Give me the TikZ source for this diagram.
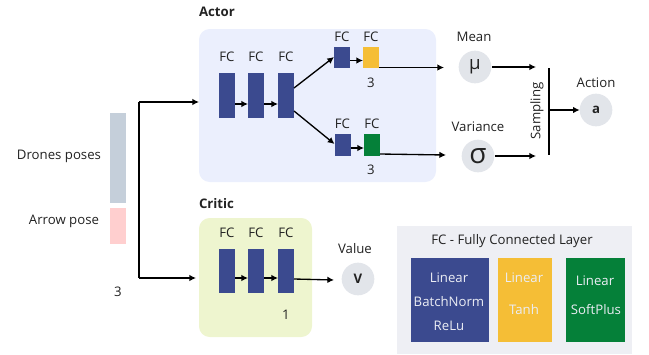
\documentclass[tikz,border=0pt]{standalone}
\usepackage{fontspec}
\setmainfont{Open Sans}
\usetikzlibrary{arrows.meta}
\definecolor{fcblue}{HTML}{3B4A8F}
\definecolor{fcyellow}{HTML}{F5BE36}
\definecolor{fcgreen}{HTML}{058039}
\definecolor{actorbg}{HTML}{EBEFFD}
\definecolor{criticbg}{HTML}{EEF5CF}
\definecolor{legendbg}{HTML}{EEEFF4}
\definecolor{circ}{HTML}{E2E5EA}
\definecolor{drones}{HTML}{C5CFDA}
\definecolor{arrowp}{HTML}{FFCFCF}
\definecolor{txt}{HTML}{222222}
\tikzset{
  x=0.75pt,y=-0.75pt,
  every node/.style={inner sep=0pt,outer sep=0pt,text=txt,font=\fontsize{9.9}{12}\selectfont},
  panel/.style={anchor=north west,rounded corners=8pt,draw=none},
  bar/.style={fill=fcblue,minimum width=12pt,minimum height=33.4pt},
  small/.style={fill=#1,minimum width=12pt,minimum height=16pt},
  legendbox/.style={anchor=north west,fill=#1},
  lt/.style={text=white!90!fcblue},
  disc/.style={circle,fill=circ,minimum size=24.5pt},
  flow/.style={draw=black,line width=1pt,-{Latex[length=5pt,width=5pt]}},
  plain/.style={draw=black,line width=1pt},
  head/.style={anchor=west,font=\fontsize{9.9}{12}\selectfont\bfseries},
}
\begin{document}
\begin{tikzpicture}
\useasboundingbox (0,0) rectangle (649,354);
% panels
\node[panel,fill=actorbg,minimum width=177.75pt,minimum height=114.75pt] (actor) at (199,29) {};
\node[panel,fill=criticbg,minimum width=84.75pt,minimum height=89.25pt] (critic) at (199,218) {};
\node[anchor=north west,fill=legendbg,minimum width=176.25pt,minimum height=96pt] (legend) at (397,226) {};
\node[head] (actorlab) at (199,12) {Actor};
\node[head] (criticlab) at (199,204) {Critic};
% inputs
\node[anchor=north west,fill=drones,minimum width=12pt,minimum height=67.5pt] (dr) at (110,113) {};
\node[anchor=north west,fill=arrowp,minimum width=12pt,minimum height=27pt] (ar) at (110,208) {};
\node (drlab) at (59,156) {Drones poses};
\node (arlab) at (64,221) {Arrow pose};
\node (three) at (118,292) {3};
% actor bars
\node[bar] (a1) at (227,95.5) {};
\node[bar] (a2) at (256,95.5) {};
\node[bar] (a3) at (286,95.5) {};
\node[small=fcblue] (m1) at (342,57.5) {};
\node[small=fcyellow] (m2) at (371,57.5) {};
\node[small=fcblue] (s1) at (342.5,145) {};
\node[small=fcgreen] (s2) at (372,145) {};
\foreach \n/\x/\y in {fa1/227/57,fa2/256/57,fa3/286/57,fm1/342/37,fm2/371/37,fs1/342.5/124,fs2/372/124,
  fc1/227/233,fc2/256/233,fc3/286/233}{\node (\n) at (\x,\y) {FC};}
\node (n3a) at (371,83) {3};
\node (n3b) at (371,170) {3};
% critic bars
\node[bar] (c1) at (227,271) {};
\node[bar] (c2) at (256,271) {};
\node[bar] (c3) at (286,271) {};
\node (n1) at (286,315) {1};
% outputs
\node[disc] (mu) at (475,67) {\fontsize{14}{14}\selectfont μ};
\node[disc] (sig) at (478,156) {\fontsize{21}{21}\selectfont σ};
\node[disc,font=\fontsize{9.9}{12}\selectfont\bfseries] (act) at (596,110) {a};
\node[disc,font=\fontsize{9.9}{12}\selectfont\bfseries] (val) at (358,279) {V};
\node (mean) at (474,37) {Mean};
\node (var) at (478,127) {Variance};
\node (actl) at (596,83) {Action};
\node (vall) at (355,249) {Value};
\node[rotate=90] (samp) at (537,111) {Sampling};
% sampling bar
\coordinate (st) at (549,68);
\coordinate (sb) at (549,155);
\coordinate (sm) at (549,110);
\draw[plain] (st) -- (sb);
\coordinate (mt) at (536,67);
\coordinate (mb) at (536,156);
\draw[flow] (mu.east) ++(1,0) -- (mt);
\draw[flow] (sig.east) ++(1,0) -- (mb);
\draw[flow] (sm) -- (act.west);
% input connectors
\coordinate (ja) at (139,102);
\coordinate (jb) at (139,278);
\coordinate (ea) at (199,102);
\coordinate (eb) at (196,278);
\draw[plain] (ja) -- (jb);
\draw[flow] (ja) -- (ea);
\draw[flow] (jb) -- (eb);
% actor connectors
\draw[flow] (a1.east |- 0,104) -- (a2.west |- 0,104);
\draw[flow] (a2.east |- 0,104) -- (a3.west |- 0,104);
\draw[flow] (a3.east |- 0,88) -- (m1.west |- 0,57);
\draw[flow] (a3.east |- 0,111) -- (s1.west |- 0,144);
\draw[flow] (m1.east |- 0,60.5) -- (m2.west |- 0,60.5);
\draw[flow] (s1.east |- 0,148) -- (s2.west |- 0,148);
\coordinate (mi) at (444,67.5);
\coordinate (si) at (446,155);
\draw[flow] (m2.east |- 0,67.5) -- (mi);
\draw[flow] (s2.east |- 0,154) -- (si);
% critic connectors
\draw[flow] (c1.east |- 0,278) -- (c2.west |- 0,278);
\draw[flow] (c2.east |- 0,278) -- (c3.west |- 0,278);
\coordinate (vi) at (334,280);
\draw[flow] (c3.east |- 0,279) -- (vi);
% legend
\node (ltitle) at (512,241) {FC - Fully Connected Layer};
\node[legendbox=fcblue,minimum width=58.5pt,minimum height=63pt] (lb) at (411,258) {};
\node[legendbox=fcyellow,minimum width=40.5pt,minimum height=63pt] (ly) at (498,258) {};
\node[legendbox=fcgreen,minimum width=44.6pt,minimum height=63pt] (lg) at (566,258) {};
\node[lt] (t1) at (449,278) {Linear};
\node[lt] (t2) at (449,302) {BatchNorm};
\node[lt] (t3) at (449,326) {ReLu};
\node[lt] (t4) at (524,278) {Linear};
\node[lt] (t5) at (524,310) {Tanh};
\node[lt] (t6) at (595,281) {Linear};
\node[lt] (t7) at (596,310) {SoftPlus};
\end{tikzpicture}
\end{document}
